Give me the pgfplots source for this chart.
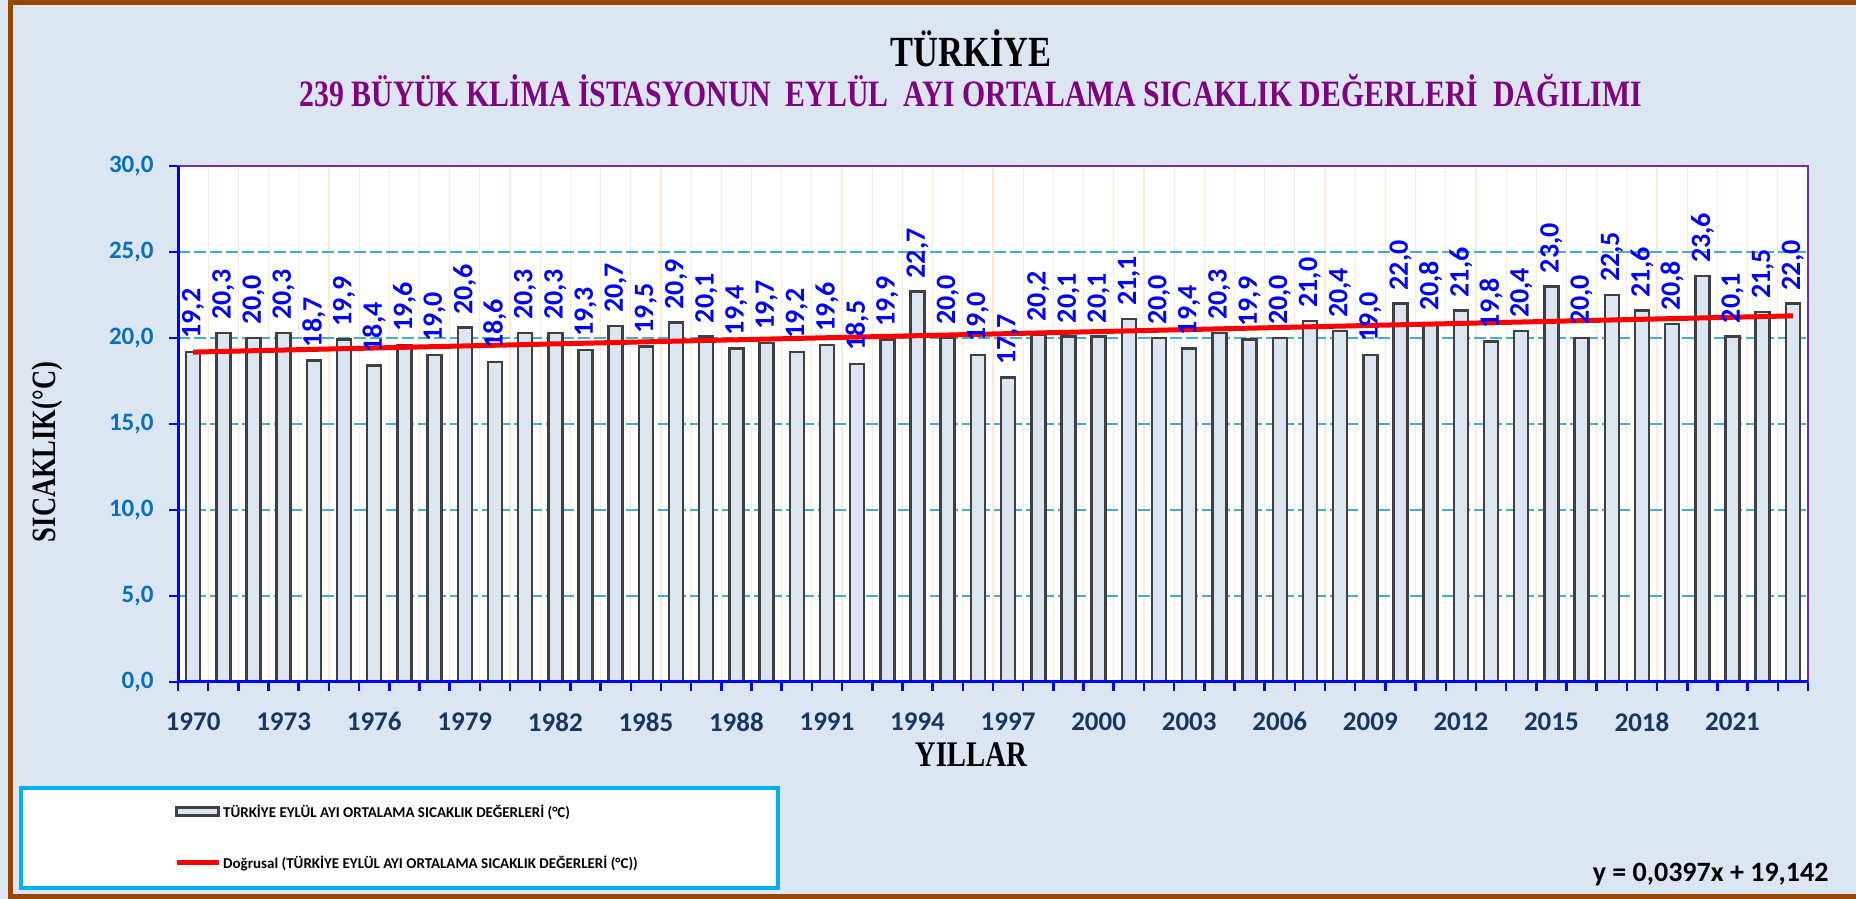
\documentclass[border=0pt]{standalone}
\usepackage{fontspec}
\setmainfont{Carlito}
\newfontfamily\serbf[FakeStretch=0.8]{Liberation Serif}
\newfontfamily\serlab[FakeStretch=0.78]{Liberation Serif}
\usepackage{pgfplots}
\usepackage{pgfplotstable}
\pgfplotsset{compat=1.18}

\definecolor{bgblue}{HTML}{DCE6F2}
\definecolor{framebrown}{HTML}{974806}
\definecolor{titlepurple}{HTML}{800080}
\definecolor{plotpurple}{HTML}{7030A0}
\definecolor{gridteal}{HTML}{4BACC6}
\definecolor{gridpeach}{HTML}{FDE9D9}
\definecolor{tickblue}{HTML}{0070C0}
\definecolor{yearnavy}{HTML}{17375E}
\definecolor{barfill}{HTML}{DCE6F2}
\definecolor{bardraw}{HTML}{404040}
\definecolor{legcyan}{HTML}{00B0F0}

% eylul ortalama sicaklik, idx 0 = 1970
\pgfplotstableread{
idx year val
0 1970 19.2
1 1971 20.3
2 1972 20.0
3 1973 20.3
4 1974 18.7
5 1975 19.9
6 1976 18.4
7 1977 19.6
8 1978 19.0
9 1979 20.6
10 1980 18.6
11 1981 20.3
12 1982 20.3
13 1983 19.3
14 1984 20.7
15 1985 19.5
16 1986 20.9
17 1987 20.1
18 1988 19.4
19 1989 19.7
20 1990 19.2
21 1991 19.6
22 1992 18.5
23 1993 19.9
24 1994 22.7
25 1995 20.0
26 1996 19.0
27 1997 17.7
28 1998 20.2
29 1999 20.1
30 2000 20.1
31 2001 21.1
32 2002 20.0
33 2003 19.4
34 2004 20.3
35 2005 19.9
36 2006 20.0
37 2007 21.0
38 2008 20.4
39 2009 19.0
40 2010 22.0
41 2011 20.8
42 2012 21.6
43 2013 19.8
44 2014 20.4
45 2015 23.0
46 2016 20.0
47 2017 22.5
48 2018 21.6
49 2019 20.8
50 2020 23.6
51 2021 20.1
52 2022 21.5
53 2023 22.0
}\temps

\begin{document}
\begin{tikzpicture}[x=1pt,y=1pt]
\path[use as bounding box] (0,0) rectangle (1856,899);
\fill[bgblue] (0,0) rectangle (1856,899);
\draw[framebrown, line width=5pt] (1856,896.5) -- (10.5,896.5) -- (10.5,2.5) -- (1856,2.5);

% basliklar
\node[anchor=base, font=\serbf\fontsize{43}{46}\selectfont\bfseries] at (971,832) {TÜRKİYE};
\node[anchor=base, text=titlepurple, font=\serbf\fontsize{37.2}{40}\selectfont\bfseries] at (971,792)
  {239 BÜYÜK KLİMA İSTASYONUN\ \ EYLÜL\ \ AYI ORTALAMA SICAKLIK DEĞERLERİ\ \ DAĞILIMI};
\node[anchor=base, font=\serbf\fontsize{36}{40}\selectfont\bfseries] at (971,132) {YILLAR};
\node[rotate=90, font=\serlab\fontsize{34}{36}\selectfont\bfseries] at (47,447) {SICAKLIK(°C)};

% legend kutusu
\draw[legcyan, line width=4pt, fill=white] (21,11) rectangle (778,111);
\node[anchor=base east, font=\fontsize{28}{30}\selectfont\bfseries] at (1832,17) {y = 0,0397x + 19,142};

\begin{axis}[
  at={(178pt,217pt)}, anchor=south west,
  scale only axis, width=1630pt, height=516pt,
  clip=false,
  xmin=-0.5, xmax=53.5, ymin=0, ymax=30,
  axis background/.style={fill=white},
  axis line style={plotpurple, line width=1.5pt},
  /pgf/number format/assume math mode=true,
  tick pos=left,
  xtick={-0.5,0.5,...,53.5}, xticklabels={},
  xmajorgrids, x grid style={gridpeach, line width=1.2pt},
  ytick={0,5,...,30}, ymajorgrids,
  y grid style={gridteal, line width=1.5pt, dash pattern=on 12pt off 4pt},
  tick align=outside, major tick length=9pt,
  tick style={blue, line width=2.5pt},
  yticklabel style={font=\fontsize{25}{27}\selectfont\bfseries, text=tickblue, xshift=-12pt,
    /pgf/number format/.cd, fixed, fixed zerofill, precision=1, use comma},
  extra x ticks={0,3,...,51},
  extra x tick labels={1970,1973,1976,1979,1982,1985,1988,1991,1994,1997,2000,2003,2006,2009,2012,2015,2018,2021},
  extra x tick style={major tick length=0pt, grid=none,
    tick label style={font=\fontsize{27}{29}\selectfont\bfseries, text=yearnavy, yshift=-27pt}},
  legend style={at={(axis description cs:-0.0025,-0.3004)}, anchor=west,
    draw=none, fill=none, inner sep=0pt, row sep=33pt,
    font=\fontsize{15}{17}\selectfont\bfseries,
    nodes={inner sep=2pt}},
  legend cell align=left,
]
\addplot[ybar, bar width=14pt, draw=bardraw, fill=barfill, line width=2.5pt,
  nodes near coords={\pgfmathprintnumber[fixed,fixed zerofill,precision=1,use comma]{\pgfplotspointmeta}},
  nodes near coords style={rotate=90, anchor=west, text=blue, inner xsep=12pt, inner ysep=0pt,
    font=\fontsize{28}{30}\selectfont\bfseries},
  legend image code/.code={\draw[draw=bardraw, fill=barfill, line width=3pt] (0pt,-4pt) rectangle (42pt,4pt);}]
  table[x=idx, y=val] {\temps};
\addlegendentry{TÜRKİYE EYLÜL AYI ORTALAMA SICAKLIK DEĞERLERİ (°C)}
% dogrusal egilim, x=1..54 icin y = 0,0397x + 19,142
\addplot[red, line width=5pt, sharp plot,
  legend image code/.code={\draw[red, line width=5pt] (0pt,0pt) -- (42pt,0pt);}]
  coordinates {(0,19.181) (53,21.286)};
\addlegendentry{Doğrusal (TÜRKİYE EYLÜL AYI ORTALAMA SICAKLIK DEĞERLERİ (°C))}
\draw[blue, line width=3pt] (rel axis cs:0,1) -- (rel axis cs:0,0) -- (rel axis cs:1,0);
\end{axis}
\end{tikzpicture}
\end{document}
